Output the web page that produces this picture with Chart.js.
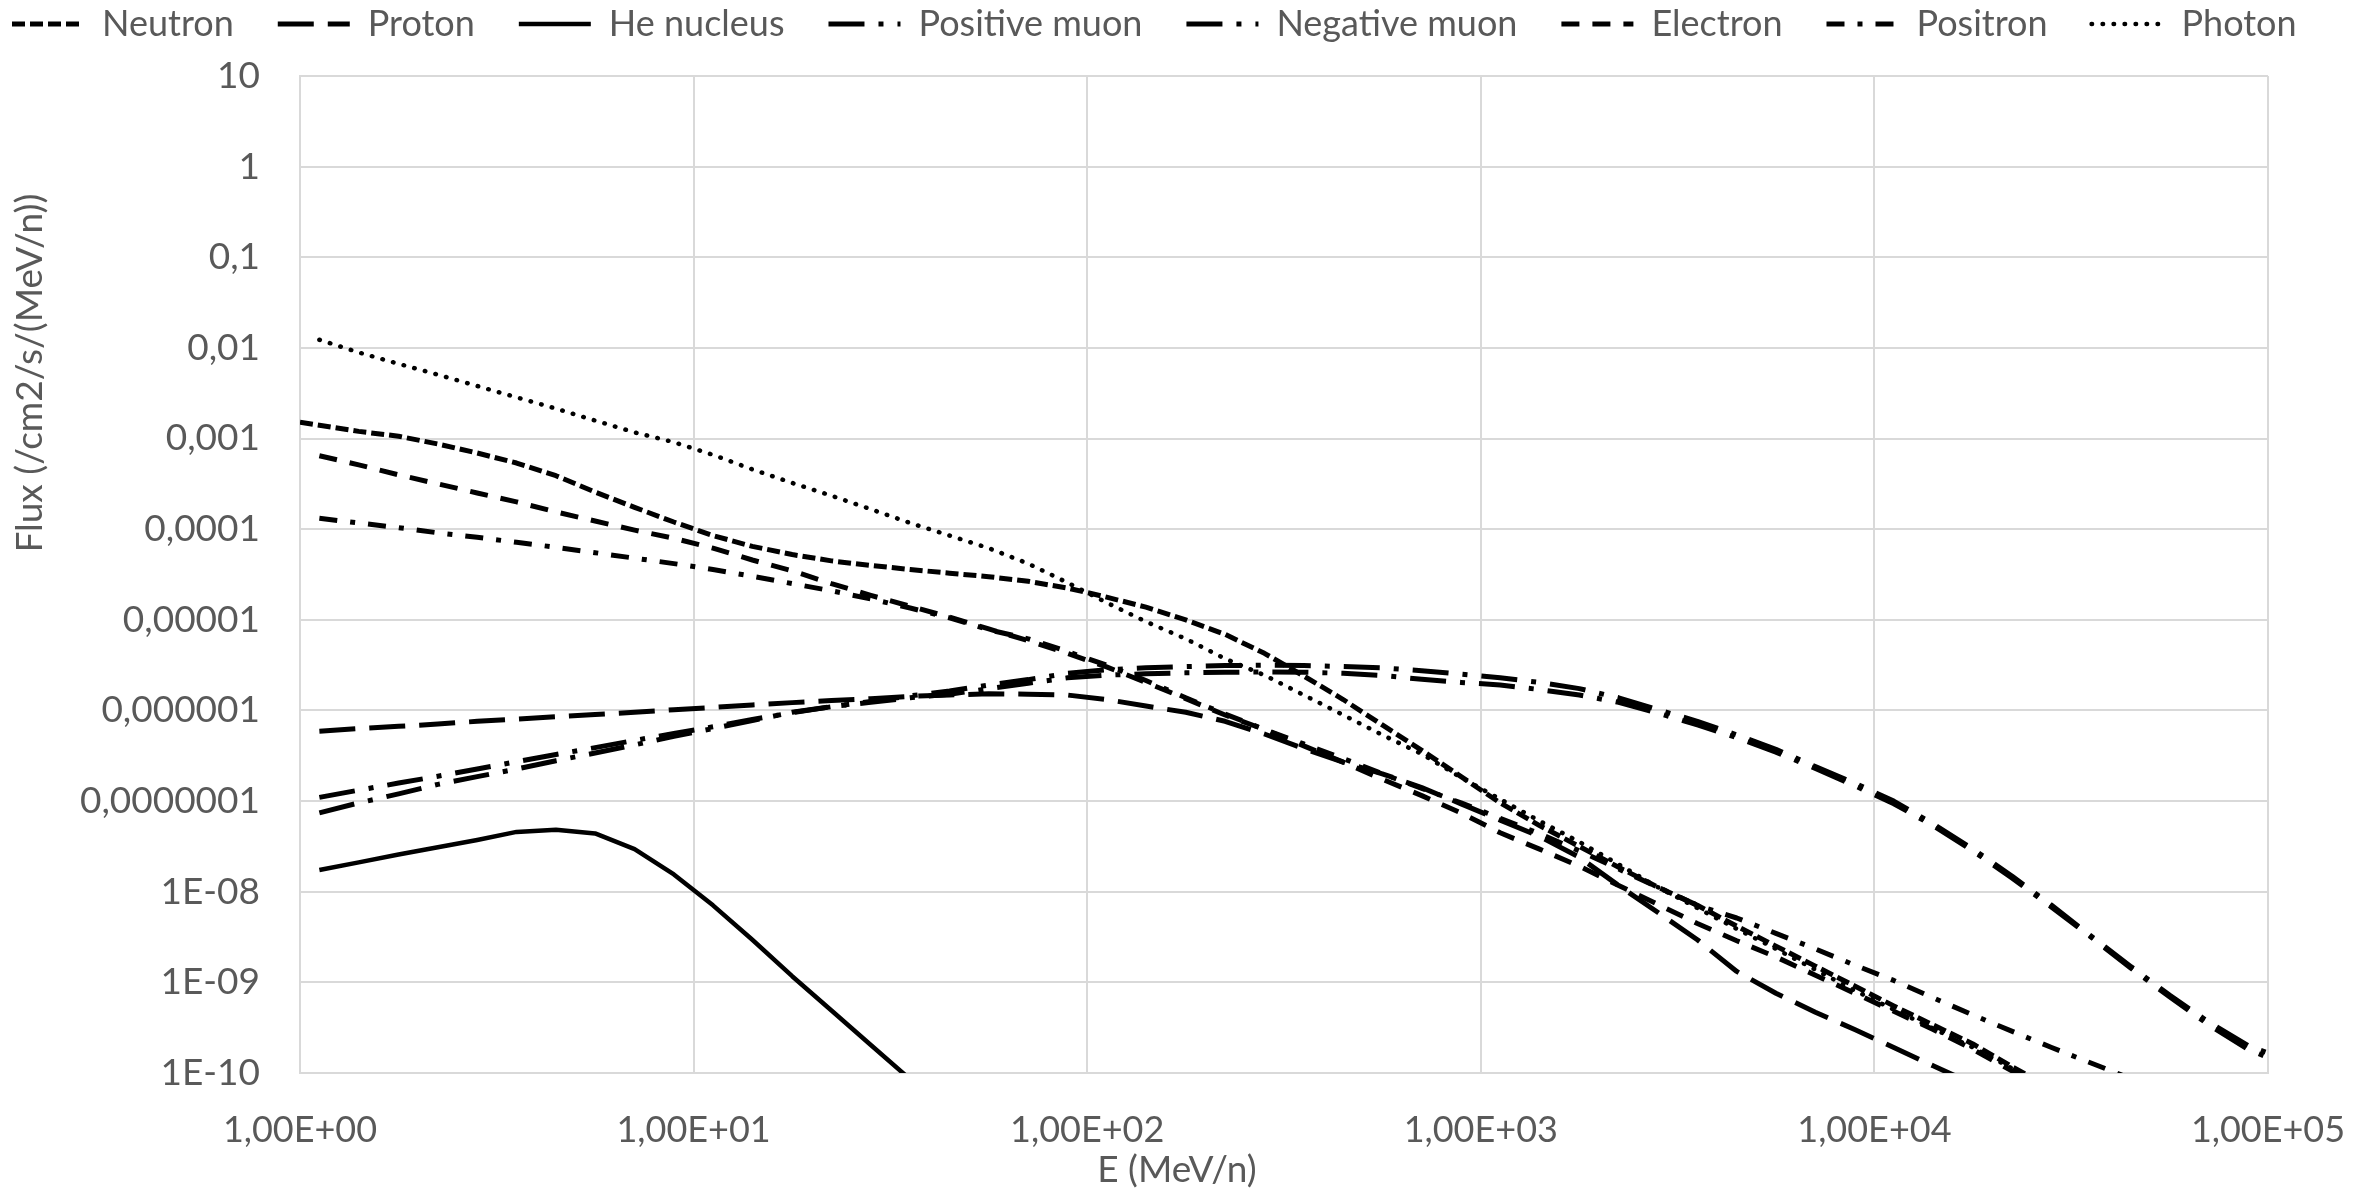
<!DOCTYPE html>
<html>
<head>
<meta charset="utf-8">
<script src="https://cdn.jsdelivr.net/npm/chart.js@4.4.1/dist/chart.umd.min.js"></script>
<style>
  html, body { margin: 0; padding: 0; background: #fff; overflow: hidden; }
  #wrap { width: 2374px; height: 1194px; }
</style>
</head>
<body>
<div id="wrap"><canvas id="fluxChart"></canvas></div>
<script>
// energy grid (MeV/n)
const energy = [1, 1.12, 1.41, 1.78, 2.24, 2.82, 3.55, 4.47, 5.62, 7.08, 8.91,
  11.2, 14.1, 17.8, 22.4, 28.2, 35.5, 44.7, 56.2, 70.8, 89.1,
  112, 141, 178, 224, 282, 355, 447, 562, 708, 891,
  1120, 1410, 1780, 2240, 2820, 3550, 4470, 5620, 7080, 8910,
  11200, 14100, 17800, 22400, 28200, 35500, 44700, 56200, 70800, 89100, 100000];

const neutron = [1.51e-3, 1.40e-3, 1.20e-3, 1.06e-3, 8.71e-4, 6.92e-4, 5.37e-4, 3.89e-4, 2.57e-4, 1.74e-4, 1.20e-4,
  8.51e-5, 6.46e-5, 5.25e-5, 4.47e-5, 3.98e-5, 3.59e-5, 3.27e-5, 2.99e-5, 2.66e-5, 2.24e-5,
  1.78e-5, 1.38e-5, 1.00e-5, 6.92e-6, 4.27e-6, 2.40e-6, 1.32e-6, 6.92e-7, 3.63e-7, 1.86e-7,
  9.55e-8, 5.37e-8, 3.16e-8, 1.86e-8, 1.12e-8, 7.08e-9, 4.17e-9, 2.51e-9, 1.51e-9, 9.12e-10,
  5.50e-10, 3.39e-10, 2.09e-10, 1.17e-10, 6.76e-11, null, null, null, null, null, null];

const proton = [null, 5.89e-7, 6.31e-7, 6.68e-7, 7.08e-7, 7.59e-7, 8.04e-7, 8.51e-7, 9.02e-7, 9.55e-7, 1.02e-6,
  1.08e-6, 1.15e-6, 1.22e-6, 1.29e-6, 1.35e-6, 1.43e-6, 1.48e-6, 1.53e-6, 1.51e-6, 1.48e-6,
  1.32e-6, 1.12e-6, 9.55e-7, 7.59e-7, 5.50e-7, 3.80e-7, 2.69e-7, 2.00e-7, 1.41e-7, 9.33e-8,
  6.17e-8, 4.07e-8, 2.40e-8, 1.17e-8, 5.89e-9, 2.95e-9, 1.32e-9, 7.59e-10, 4.68e-10, 3.02e-10,
  1.91e-10, 1.20e-10, 7.59e-11, null, null, null, null, null, null, null, null];

const heNucleus = [null, 1.74e-8, 2.11e-8, 2.57e-8, 3.09e-8, 3.72e-8, 4.57e-8, 4.82e-8, 4.40e-8, 2.95e-8, 1.55e-8,
  7.08e-9, 2.95e-9, 1.17e-9, 4.90e-10, 2.04e-10, 8.51e-11, 3.55e-11, null, null, null,
  null, null, null, null, null, null, null, null, null, null,
  null, null, null, null, null, null, null, null, null, null,
  null, null, null, null, null, null, null, null, null, null, null];

const positiveMuon = [null, 1.10e-7, 1.32e-7, 1.58e-7, 1.88e-7, 2.26e-7, 2.72e-7, 3.27e-7, 3.89e-7, 4.68e-7, 5.56e-7,
  6.61e-7, 7.94e-7, 9.44e-7, 1.10e-6, 1.26e-6, 1.45e-6, 1.64e-6, 1.91e-6, 2.19e-6, 2.57e-6,
  2.82e-6, 2.95e-6, 3.05e-6, 3.13e-6, 3.16e-6, 3.13e-6, 3.05e-6, 2.95e-6, 2.75e-6, 2.51e-6,
  2.29e-6, 2.04e-6, 1.74e-6, 1.38e-6, 1.02e-6, 7.59e-7, 5.37e-7, 3.72e-7, 2.40e-7, 1.58e-7,
  1.00e-7, 5.62e-8, 2.95e-8, 1.48e-8, 7.08e-9, 3.24e-9, 1.51e-9, 7.24e-10, 3.63e-10, 2.00e-10, 1.66e-10];

const negativeMuon = [null, 7.41e-8, 9.55e-8, 1.20e-7, 1.53e-7, 1.86e-7, 2.26e-7, 2.79e-7, 3.39e-7, 4.17e-7, 5.19e-7,
  6.31e-7, 7.76e-7, 9.55e-7, 1.10e-6, 1.23e-6, 1.38e-6, 1.51e-6, 1.74e-6, 2.00e-6, 2.29e-6,
  2.45e-6, 2.54e-6, 2.60e-6, 2.64e-6, 2.66e-6, 2.64e-6, 2.57e-6, 2.43e-6, 2.21e-6, 2.04e-6,
  1.91e-6, 1.70e-6, 1.48e-6, 1.23e-6, 9.33e-7, 6.92e-7, 5.01e-7, 3.47e-7, 2.29e-7, 1.48e-7,
  9.33e-8, 5.37e-8, 2.82e-8, 1.41e-8, 6.76e-9, 3.16e-9, 1.45e-9, 6.92e-10, 3.39e-10, 1.82e-10, 1.48e-10];

const electron = [null, 6.46e-4, 5.13e-4, 3.98e-4, 3.16e-4, 2.51e-4, 2.00e-4, 1.55e-4, 1.23e-4, 9.77e-5, 7.94e-5,
  6.17e-5, 4.57e-5, 3.47e-5, 2.51e-5, 1.86e-5, 1.41e-5, 1.07e-5, 7.94e-6, 5.89e-6, 4.27e-6,
  3.02e-6, 2.04e-6, 1.35e-6, 8.91e-7, 6.17e-7, 4.07e-7, 2.69e-7, 1.74e-7, 1.15e-7, 7.41e-8,
  4.47e-8, 2.95e-8, 1.91e-8, 1.17e-8, 7.24e-9, 4.47e-9, 2.88e-9, 1.91e-9, 1.20e-9, 7.59e-10,
  4.79e-10, 3.02e-10, 1.82e-10, 1.05e-10, 6.03e-11, null, null, null, null, null, null];

const positron = [null, 1.32e-4, 1.17e-4, 1.04e-4, 9.12e-5, 8.13e-5, 7.16e-5, 6.31e-5, 5.50e-5, 4.79e-5, 4.17e-5,
  3.59e-5, 3.02e-5, 2.51e-5, 2.09e-5, 1.70e-5, 1.35e-5, 1.05e-5, 7.76e-6, 6.17e-6, 4.47e-6,
  3.16e-6, 2.14e-6, 1.38e-6, 9.12e-7, 6.17e-7, 4.27e-7, 2.95e-7, 2.00e-7, 1.38e-7, 9.55e-8,
  6.46e-8, 4.37e-8, 2.82e-8, 1.78e-8, 1.12e-8, 7.08e-9, 5.13e-9, 3.47e-9, 2.34e-9, 1.55e-9,
  1.05e-9, 6.76e-10, 4.37e-10, 2.88e-10, 1.91e-10, 1.29e-10, 8.71e-11, null, null, null, null];

const photon = [null, 1.23e-2, 8.91e-3, 6.68e-3, 5.07e-3, 3.80e-3, 2.85e-3, 2.14e-3, 1.58e-3, 1.17e-3, 9.12e-4,
  6.61e-4, 4.57e-4, 3.24e-4, 2.34e-4, 1.66e-4, 1.17e-4, 8.51e-5, 6.17e-5, 4.17e-5, 2.57e-5,
  1.55e-5, 9.55e-6, 6.17e-6, 3.72e-6, 2.45e-6, 1.48e-6, 8.91e-7, 5.37e-7, 3.31e-7, 1.82e-7,
  1.05e-7, 6.03e-8, 3.55e-8, 2.00e-8, 1.12e-8, 6.61e-9, 3.89e-9, 2.34e-9, 1.38e-9, 8.13e-10,
  5.01e-10, 3.09e-10, 1.91e-10, 1.12e-10, 6.31e-11, null, null, null, null, null, null];

const xTickValues = [1, 10, 100, 1000, 10000, 100000];
const xTickLabels = ['1,00E+00', '1,00E+01', '1,00E+02', '1,00E+03', '1,00E+04', '1,00E+05'];
const yTickValues = [1e-10, 1e-9, 1e-8, 1e-7, 1e-6, 1e-5, 1e-4, 1e-3, 1e-2, 1e-1, 1, 10];
const yTickLabels = ['1E-10', '1E-09', '1E-08', '0,0000001', '0,000001', '0,00001', '0,0001', '0,001', '0,01', '0,1', '1', '10'];

const grey = '#595959';
const gridGrey = '#d9d9d9';
Chart.defaults.font.family = 'Lato';

function series(label, data, dash, width, cap) {
  return {
    label, data,
    borderColor: '#000', backgroundColor: '#000',
    borderWidth: width, borderDash: dash,
    borderCapStyle: cap || 'butt', borderJoinStyle: 'round',
    pointRadius: 0, pointHoverRadius: 0, tension: 0, fill: false
  };
}

// legend height is fixed so the plot starts where the reference does
const legendSpace = {
  id: 'legendSpace',
  beforeInit(chart) {
    const fit = chart.legend.fit;
    chart.legend.fit = function () {
      fit.call(this);
      this.height = 114;
    };
  }
};

const axisTitles = {
  id: 'axisTitles',
  afterDraw(chart) {
    const { ctx, chartArea: a } = chart;
    ctx.save();
    ctx.fillStyle = grey;
    ctx.font = '37px Lato';
    ctx.textAlign = 'center';
    ctx.textBaseline = 'middle';
    ctx.fillText('E (MeV/n)', a.left + a.width * 0.4456, 1170);
    ctx.translate(30, a.top + a.height * 0.298);
    ctx.rotate(-Math.PI / 2);
    ctx.fillText('Flux (/cm2/s/(MeV/n))', 0, 0);
    ctx.restore();
  }
};

new Chart(document.getElementById('fluxChart'), {
  type: 'line',
  data: {
    labels: energy,
    datasets: [
      series('Neutron', neutron, [13, 5], 5),
      series('Proton', proton, [36, 14], 5),
      series('He nucleus', heNucleus, [], 4.5),
      series('Positive muon', positiveMuon, [36, 14, 5, 14], 5),
      series('Negative muon', negativeMuon, [36, 14, 5, 14], 5),
      series('Electron', electron, [18, 13], 5),
      series('Positron', positron, [18, 13, 5, 13], 5),
      series('Photon', photon, [0.5, 10.5], 4.5, 'round')
    ]
  },
  options: {
    responsive: true,
    maintainAspectRatio: false,
    devicePixelRatio: 1,
    animation: false,
    layout: { padding: { top: -38, right: 0, bottom: 0, left: -32 } },
    plugins: {
      legend: {
        position: 'top',
        align: 'start',
        labels: {
          usePointStyle: true,
          pointStyle: 'line',
          pointStyleWidth: 72,
          padding: 44,
          color: grey,
          font: { size: 36 },
          generateLabels: chart => chart.data.datasets.map((ds, i) => ({
            text: ds.label,
            datasetIndex: i,
            hidden: false,
            fillStyle: ds.borderColor,
            strokeStyle: ds.borderColor,
            fontColor: grey,
            lineWidth: ds.borderWidth,
            lineDash: ds.borderDash,
            lineCap: ds.borderCapStyle,
            lineJoin: 'round',
            pointStyle: 'line'
          }))
        }
      },
      tooltip: { enabled: false }
    },
    scales: {
      x: {
        type: 'logarithmic',
        min: 1,
        max: 100000,
        afterBuildTicks: s => { s.ticks = xTickValues.map(v => ({ value: v })); },
        afterFit: s => { s.height = 121; s.paddingLeft = 0; s.paddingRight = 0; },
        ticks: {
          autoSkip: false,
          maxRotation: 0,
          padding: 36,
          color: grey,
          font: { size: 36 },
          callback: (v, i) => xTickLabels[i]
        },
        grid: { color: gridGrey, lineWidth: 2, drawTicks: false },
        border: { color: gridGrey, width: 2 }
      },
      y: {
        type: 'logarithmic',
        min: 1e-10,
        max: 10,
        afterBuildTicks: s => { s.ticks = yTickValues.map(v => ({ value: v })); },
        afterFit: s => { s.width = 332; s.paddingTop = 0; s.paddingBottom = 0; },
        ticks: {
          autoSkip: false,
          padding: 40,
          color: grey,
          font: { size: 37 },
          callback: (v, i) => yTickLabels[i]
        },
        grid: { color: gridGrey, lineWidth: 2, drawTicks: false },
        border: { color: gridGrey, width: 2 }
      },
      // empty right-hand box keeping the plot clear of the right margin
      margin: {
        type: 'linear',
        position: 'right',
        afterFit: s => { s.width = 106; s.paddingTop = 0; s.paddingBottom = 0; },
        ticks: { display: false },
        grid: { display: false, drawTicks: false },
        border: { display: false }
      }
    }
  },
  plugins: [legendSpace, axisTitles]
});
</script>
</body>
</html>
